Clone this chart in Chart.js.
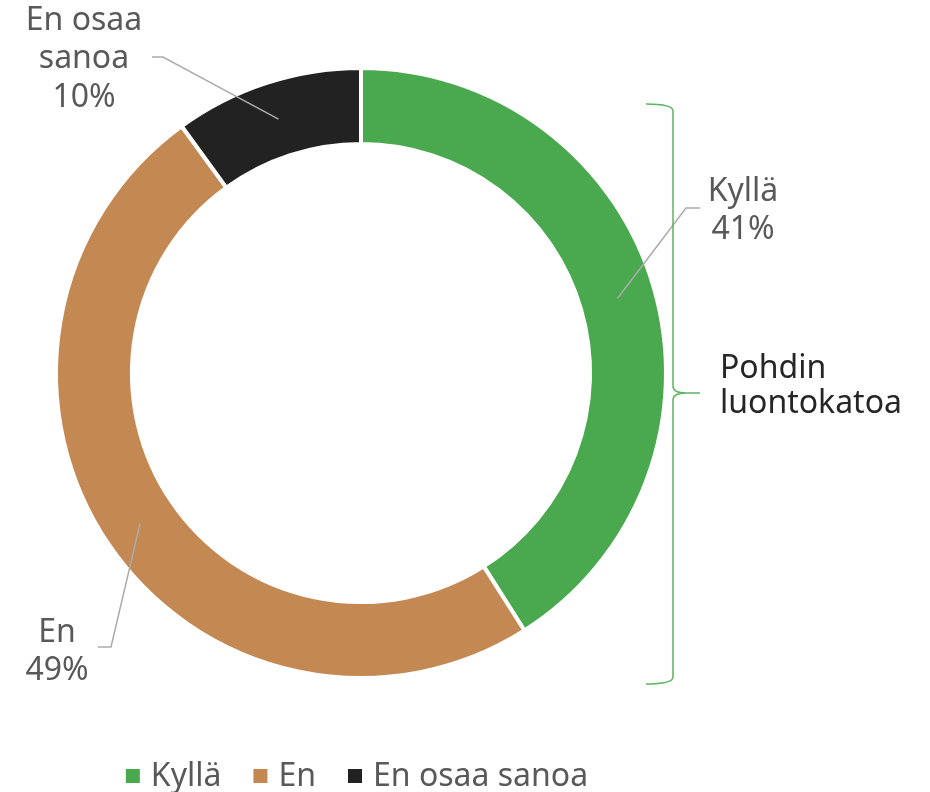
<!DOCTYPE html>
<html><head><meta charset="utf-8">
<script src="https://cdn.jsdelivr.net/npm/chart.js@4/dist/chart.umd.min.js"></script>
<style>html,body{margin:0;padding:0;background:#fff;overflow:hidden}canvas{display:block}</style>
</head><body>
<canvas id="c" width="930" height="792"></canvas>
<script>
// ---- data ----
const categories = ['Kyllä', 'En', 'En osaa sanoa'];
const values = [41, 49, 10];
const labelNames = [['Kyllä'], ['En'], ['En osaa', 'sanoa']];
const groupTitle = ['Pohdin', 'luontokatoa'];

// ---- styles ----
const COLORS = ['#4AA84E', '#C48852', '#222222'];
const FONT = '"Noto Sans", "Open Sans", sans-serif';
const TEXT_GREY = '#595959';
const LEADER = '#ababab';

// label layout (elbow point, line end, text centre, baselines)
const labelLayout = [
  { elbow: [686, 208], end: 700, tx: 743, base: [201, 239] },
  { elbow: [111, 647], end: 98, tx: 57, base: [642, 680] },
  { elbow: [163, 57], end: 152, tx: 84, base: [30, 68, 107] }
];

const annotate = {
  id: 'annotate',
  afterDatasetsDraw(chart) {
    const ctx = chart.ctx;
    const meta = chart.getDatasetMeta(0);
    ctx.save();
    ctx.font = `32px ${FONT}`;
    // leader lines + labels
    meta.data.forEach((arc, i) => {
      const p = arc.getCenterPoint();
      const L = labelLayout[i];
      ctx.strokeStyle = LEADER;
      ctx.lineWidth = 1.5;
      ctx.beginPath();
      ctx.moveTo(p.x, p.y);
      ctx.lineTo(L.elbow[0], L.elbow[1]);
      ctx.lineTo(L.end, L.elbow[1]);
      ctx.stroke();
      const lines = labelNames[i].concat([values[i] + '%']);
      ctx.fillStyle = TEXT_GREY;
      ctx.textAlign = 'center';
      ctx.textBaseline = 'alphabetic';
      lines.forEach((t, k) => ctx.fillText(t, L.tx, L.base[k]));
    });
    // bracket
    ctx.strokeStyle = '#5DB460';
    ctx.lineWidth = 1.5;
    ctx.beginPath();
    ctx.moveTo(646, 104);
    ctx.quadraticCurveTo(673, 104, 673, 111);
    ctx.lineTo(673, 386);
    ctx.quadraticCurveTo(673, 393, 686, 393);
    ctx.lineTo(700, 393);
    ctx.moveTo(686, 393);
    ctx.quadraticCurveTo(673, 393, 673, 400);
    ctx.lineTo(673, 677);
    ctx.quadraticCurveTo(673, 684, 646, 684);
    ctx.stroke();
    // group title
    ctx.fillStyle = '#262626';
    ctx.textAlign = 'left';
    ctx.fillText(groupTitle[0], 720, 378);
    ctx.fillText(groupTitle[1], 720, 413);
    // legend
    const boxSize = 14, gapBox = 11, gapItem = 32;
    const widths = categories.map(c => ctx.measureText(c).width);
    let total = 0;
    widths.forEach((w, i) => { total += boxSize + gapBox + w + (i < widths.length - 1 ? gapItem : 0); });
    let x = 357 - total / 2;
    categories.forEach((c, i) => {
      ctx.fillStyle = COLORS[i];
      ctx.fillRect(x, 769, boxSize, boxSize);
      x += boxSize + gapBox;
      ctx.fillStyle = TEXT_GREY;
      ctx.fillText(c, x, 786);
      x += widths[i] + gapItem;
    });
    ctx.restore();
  }
};

new Chart(document.getElementById('c'), {
  type: 'doughnut',
  data: {
    labels: categories,
    datasets: [{
      data: values,
      backgroundColor: COLORS,
      borderColor: '#ffffff',
      borderWidth: 4,
      hoverOffset: 0
    }]
  },
  options: {
    responsive: false,
    animation: false,
    devicePixelRatio: 1,
    radius: 305,
    cutout: '75.1%',
    layout: { padding: { left: 0, right: 208, top: 0, bottom: 46 } },
    plugins: {
      legend: { display: false },
      tooltip: { enabled: false }
    }
  },
  plugins: [annotate]
});
</script>
</body></html>
